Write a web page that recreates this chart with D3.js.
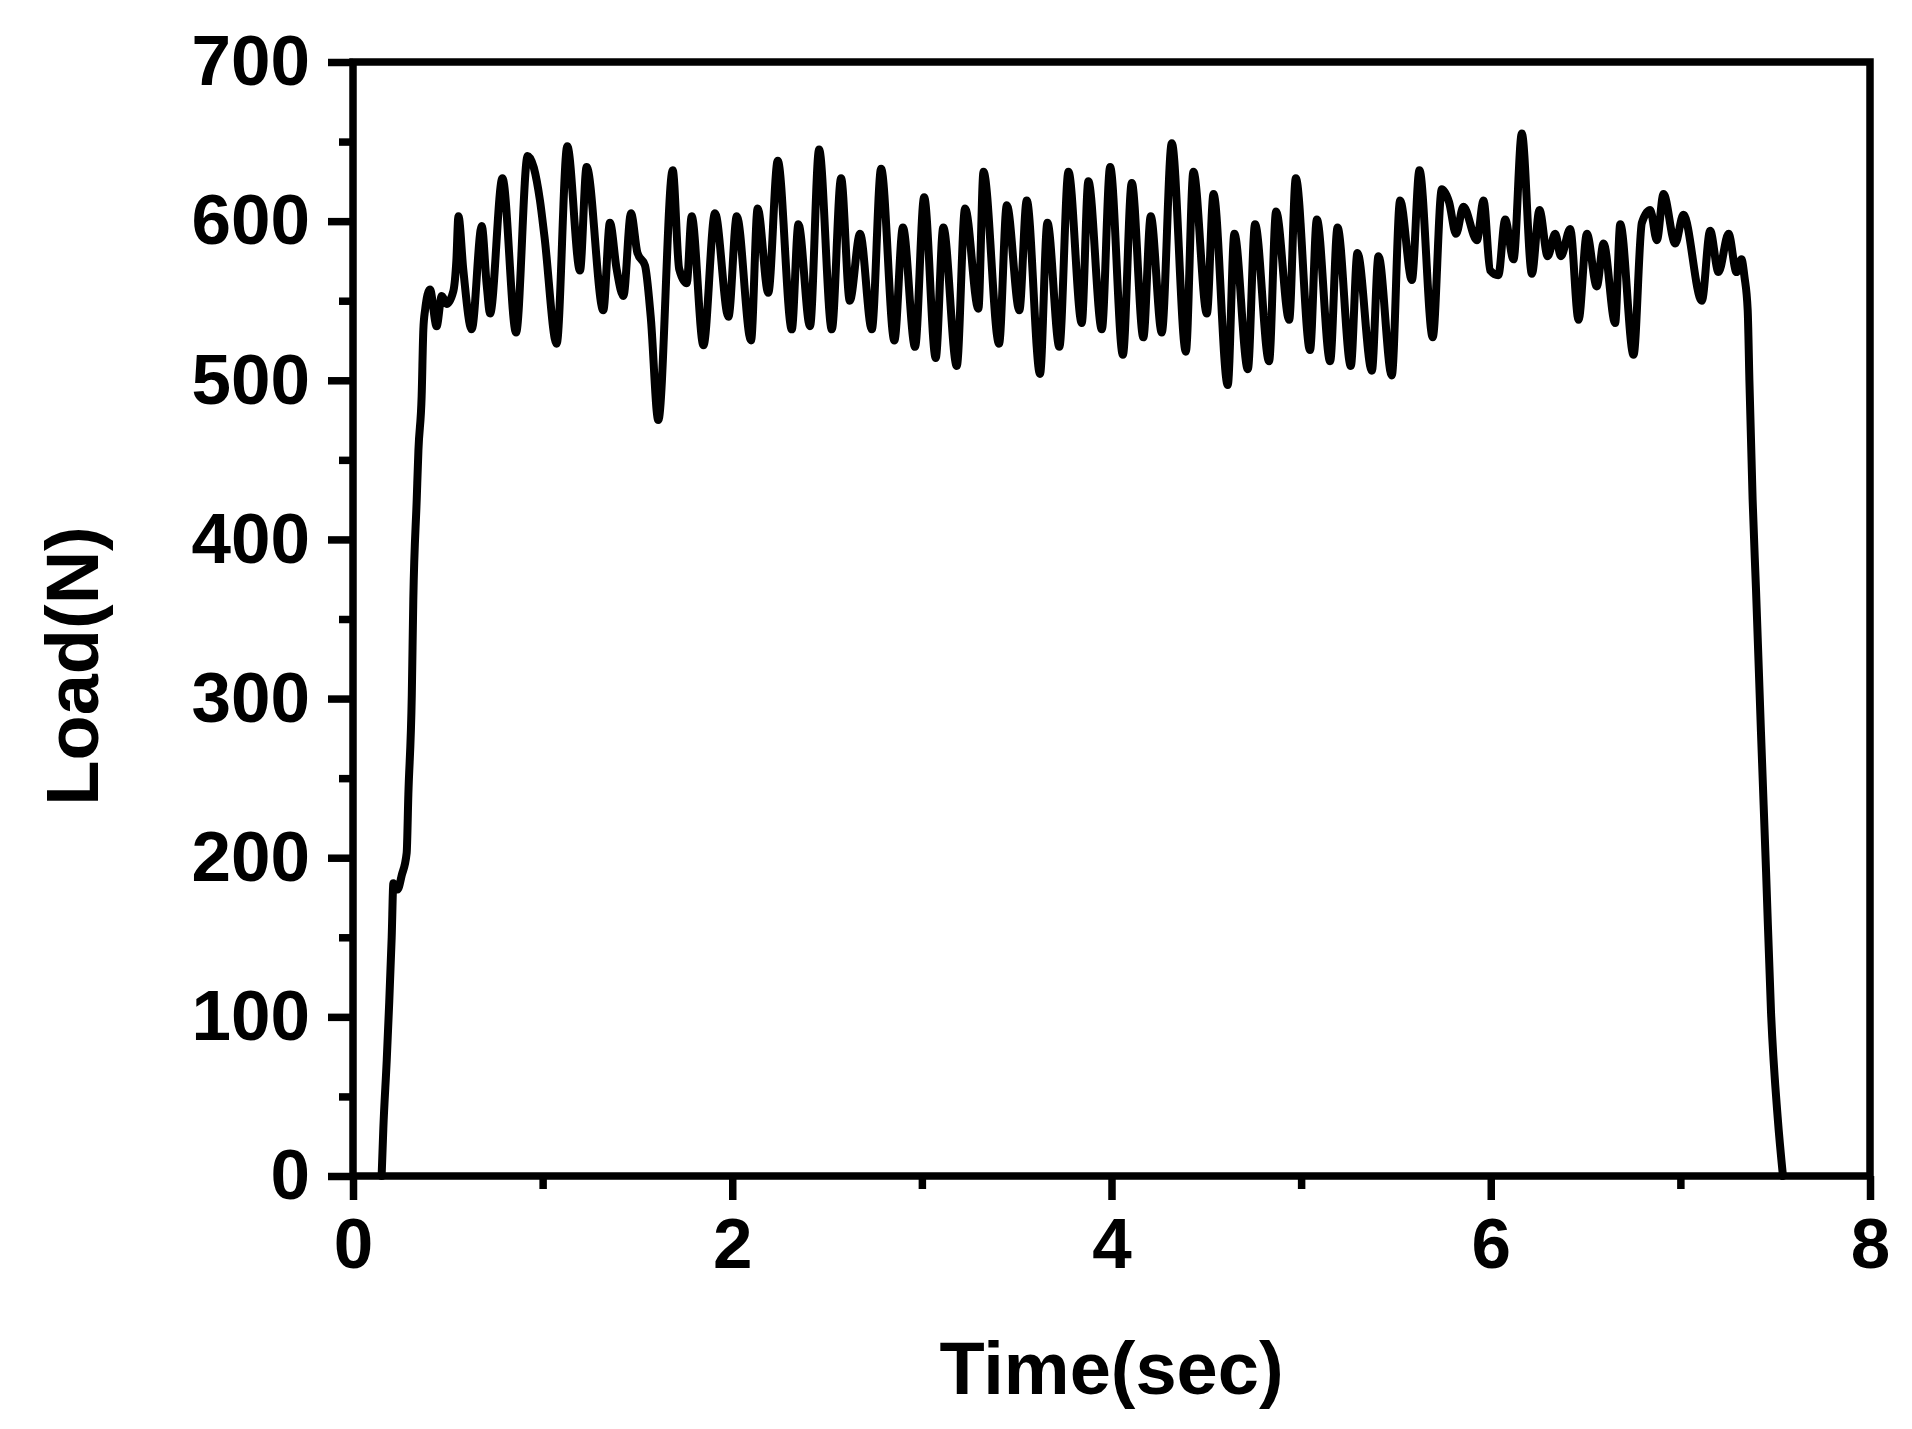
<!DOCTYPE html>
<html>
<head>
<meta charset="utf-8">
<script src="https://cdn.jsdelivr.net/npm/d3@7/dist/d3.min.js"></script>
<style>
  html, body { margin: 0; padding: 0; background: #fff; }
  svg { display: block; }
  text { font-family: "Liberation Sans", Arial, sans-serif; font-weight: bold; fill: #000; }
</style>
</head>
<body>
<svg id="chart" width="1912" height="1429"></svg>
<script>
// ---- Data ----
const timeSec = [
  0.151, 0.160, 0.178, 0.191, 0.204, 0.213, 0.235, 0.257, 0.283, 0.292, 0.310, 0.318,
  0.336, 0.345, 0.362, 0.371, 0.380, 0.406, 0.441, 0.468, 0.494, 0.529, 0.545, 0.556,
  0.582, 0.626, 0.679, 0.705, 0.723, 0.788, 0.860, 0.921, 0.986, 1.010, 1.074, 1.130,
  1.197, 1.232, 1.320, 1.355, 1.390, 1.426, 1.466, 1.500, 1.540, 1.570, 1.610, 1.686,
  1.720, 1.760, 1.786, 1.848, 1.909, 1.980, 2.024, 2.099, 2.134, 2.190, 2.240, 2.314,
  2.349, 2.410, 2.458, 2.525, 2.574, 2.620, 2.674, 2.736, 2.785, 2.855, 2.900, 2.964,
  3.012, 3.073, 3.113, 3.184, 3.228, 3.298, 3.325, 3.407, 3.448, 3.514, 3.553, 3.623,
  3.662, 3.725, 3.773, 3.843, 3.878, 3.949, 3.993, 4.060, 4.107, 4.168, 4.207, 4.265,
  4.318, 4.392, 4.432, 4.503, 4.538, 4.613, 4.648, 4.719, 4.757, 4.831, 4.868, 4.937,
  4.972, 5.047, 5.083, 5.153, 5.192, 5.262, 5.297, 5.373, 5.408, 5.478, 5.522, 5.584,
  5.624, 5.694, 5.742, 5.780, 5.817, 5.856, 5.927, 5.962, 5.997, 6.040, 6.076, 6.120,
  6.164, 6.217, 6.257, 6.300, 6.340, 6.370, 6.419, 6.463, 6.507, 6.559, 6.595, 6.656,
  6.683, 6.753, 6.797, 6.841, 6.876, 6.911, 6.973, 7.016, 7.113, 7.157, 7.201, 7.254,
  7.296, 7.322, 7.338, 7.355, 7.364, 7.381, 7.399, 7.425, 7.452, 7.478, 7.513, 7.541
];
const loadN = [
  0, 30, 73, 109, 150, 184, 180, 189, 203, 240, 302, 362,
  425, 456, 490, 532, 544, 557, 534, 553, 548, 556, 575, 603,
  569, 532, 597, 560, 542, 627, 530, 641, 613, 590, 523, 647,
  569, 634, 544, 599, 570, 553, 605, 580, 572, 540, 475, 632,
  570, 561, 603, 522, 605, 540, 603, 525, 608, 555, 638, 532,
  598, 534, 645, 532, 627, 550, 592, 532, 633, 525, 596, 521,
  615, 514, 596, 509, 608, 545, 631, 523, 610, 544, 613, 504,
  599, 521, 631, 536, 625, 532, 634, 516, 624, 527, 603, 530,
  649, 518, 631, 542, 617, 497, 592, 507, 598, 512, 606, 538,
  627, 519, 601, 512, 596, 509, 580, 506, 578, 503, 613, 563,
  632, 527, 620, 612, 592, 609, 588, 613, 569, 566, 601, 576,
  655, 567, 607, 578, 592, 578, 595, 538, 592, 559, 586, 536,
  598, 516, 599, 607, 588, 617, 586, 604, 550, 594, 568, 592,
  568, 576, 565, 544, 500, 425, 368, 279, 191, 103, 37, 0
];
const xMajorTicks = [0, 2, 4, 6, 8];
const xMinorTicks = [1, 3, 5, 7];
const yMajorTicks = [0, 100, 200, 300, 400, 500, 600, 700];
const yMinorTicks = [50, 150, 250, 350, 450, 550, 650];
const xTitle = "Time(sec)";
const yTitle = "Load(N)";

// ---- Layout ----
const plotLeft = 353, plotRight = 1870, plotTop = 62, plotBottom = 1176;
const svg = d3.select("#chart");
const x = d3.scaleLinear().domain([0, 8]).range([plotLeft, plotRight]);
const y = d3.scaleLinear().domain([0, 700]).range([plotBottom, plotTop]);
const axisW = 7.5, tickFont = 71;

function styleAxis(g) {
  g.select(".domain").remove();
  g.selectAll(".tick line").attr("stroke", "#000").attr("stroke-width", axisW);
  g.selectAll(".tick text").style("font-size", tickFont + "px")
    .style("font-family", '"Liberation Sans", Arial, sans-serif').style("font-weight", "bold").attr("fill", "#000");
}
svg.append("g").attr("transform", `translate(${plotLeft},0)`)
  .call(d3.axisLeft(y).tickValues(yMajorTicks).tickSize(25).tickPadding(18).tickFormat(d3.format("d")))
  .call(styleAxis);
svg.append("g").attr("transform", `translate(${plotLeft},0)`)
  .call(d3.axisLeft(y).tickValues(yMinorTicks).tickSize(14).tickFormat(""))
  .call(styleAxis);
svg.append("g").attr("transform", `translate(0,${plotBottom})`)
  .call(d3.axisBottom(x).tickValues(xMajorTicks).tickSize(24).tickPadding(18).tickFormat(d3.format("d")))
  .call(styleAxis);
svg.append("g").attr("transform", `translate(0,${plotBottom})`)
  .call(d3.axisBottom(x).tickValues(xMinorTicks).tickSize(13).tickFormat(""))
  .call(styleAxis);

// Frame
svg.append("rect")
  .attr("x", plotLeft).attr("y", plotTop)
  .attr("width", plotRight - plotLeft).attr("height", plotBottom - plotTop)
  .attr("fill", "none").attr("stroke", "#000").attr("stroke-width", axisW);

// Data line
const pts = timeSec.map((t, i) => [t, loadN[i]]);
const line = d3.line().x(d => x(d[0])).y(d => y(d[1])).curve(d3.curveMonotoneX);
svg.append("path").datum(pts)
  .attr("d", line)
  .attr("fill", "none").attr("stroke", "#000")
  .attr("stroke-width", 8).attr("stroke-linejoin", "round").attr("stroke-linecap", "round");

// Titles
svg.append("text").attr("x", (plotLeft + plotRight) / 2).attr("y", 1394)
  .attr("text-anchor", "middle").style("font-size", "74px").text(xTitle);
svg.append("text").attr("transform", "translate(98,666) rotate(-90)")
  .attr("text-anchor", "middle").style("font-size", "74px").text(yTitle);
</script>
</body>
</html>
